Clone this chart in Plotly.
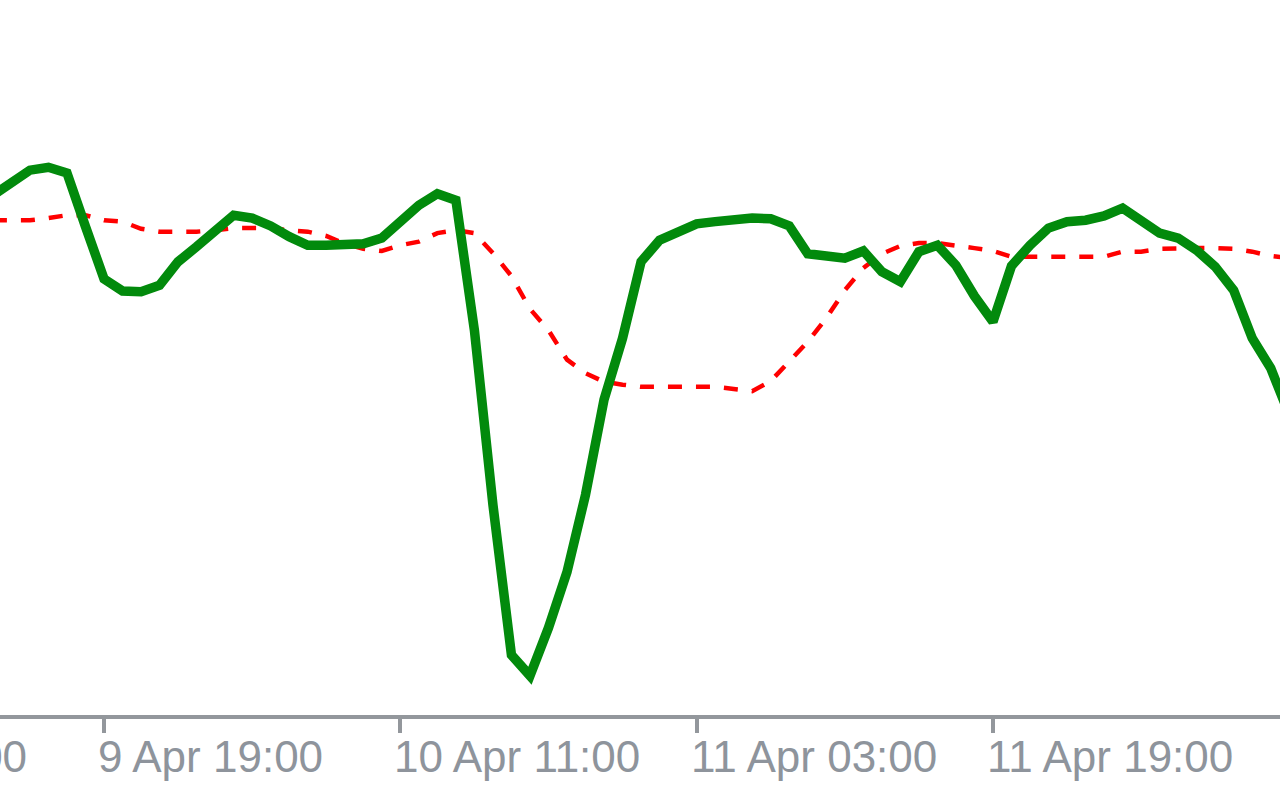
import pandas as pd
import plotly.graph_objects as go

# hourly timestamps (9 Apr 13:00 .. 12 Apr 11:00)
times = pd.date_range("2024-04-09 13:00", "2024-04-12 11:00", freq="h")

main_line = [
    72.7, 74.3, 76.2, 76.6, 75.8, 68.3, 61.0, 59.3, 59.2, 60.1,
    63.4, 65.5, 67.6, 69.9, 69.5, 68.4, 66.9, 65.7, 65.7, 65.7,
    65.9, 66.7, 69.0, 71.3, 72.9, 72.0, 53.8, 29.4, 8.4, 5.5,
    12.2, 20.0, 30.8, 44.1, 52.7, 63.4, 66.4, 67.4, 68.7, 69.0,
    69.4, 69.5, 69.4, 68.4, 64.5, 64.2, 63.9, 64.9, 62.0, 60.6,
    64.8, 65.7, 62.9, 58.6, 55.0, 62.8, 65.7, 68.1, 69.0, 69.2,
    69.8, 70.9, 69.0, 67.4, 66.7, 65.0, 62.7, 59.4, 52.7, 48.5,
    42.0,
]

signal_line = [
    69.2, 69.2, 69.2, 69.5, 69.9, 69.9, 69.2, 69.0, 68.0, 67.6,
    67.6, 67.6, 67.8, 68.1, 68.1, 68.1, 67.8, 67.6, 67.0, 65.9,
    65.2, 64.9, 65.7, 66.2, 67.4, 67.8, 67.4, 64.6, 61.4, 56.8,
    53.8, 49.7, 47.8, 46.6, 46.2, 45.9, 45.9, 45.9, 45.9, 45.9,
    45.6, 45.3, 46.7, 49.4, 52.2, 55.5, 59.4, 62.5, 64.5, 65.6,
    66.0, 66.0, 65.7, 65.3, 64.9, 64.1, 64.1, 64.1, 64.1, 64.1,
    64.1, 64.8, 64.8, 65.2, 65.3, 65.3, 65.3, 65.2, 64.8, 64.2,
    63.9,
]

tick_times = ["2024-04-09 03:00", "2024-04-09 19:00", "2024-04-10 11:00",
              "2024-04-11 03:00", "2024-04-11 19:00"]
tick_labels = ["9 Apr 03:00", "9 Apr 19:00", "10 Apr 11:00",
               "11 Apr 03:00", "11 Apr 19:00"]

x_start = pd.Timestamp("2024-04-09 13:23")
x_end = pd.Timestamp("2024-04-12 10:30")

AXIS_COLOR = "#93979c"
LABEL_COLOR = "#8e949c"

fig = go.Figure()
fig.add_trace(go.Scatter(
    x=times, y=signal_line, mode="lines",
    line=dict(color="#ff0000", width=4.5, dash="14px,14px"),
    hoverinfo="skip", showlegend=False,
))
fig.add_trace(go.Scatter(
    x=times, y=main_line, mode="lines",
    line=dict(color="#028a0c", width=9.5),
    hoverinfo="skip", showlegend=False,
))

span = (x_end - x_start).total_seconds()
annotations = []
for t, lab in zip(tick_times, tick_labels):
    frac = (pd.Timestamp(t) - x_start).total_seconds() / span
    annotations.append(dict(
        x=frac, xref="paper", y=-0.0587, yref="paper",
        xanchor="left", yanchor="middle", xshift=-8,
        text=lab, showarrow=False,
        font=dict(family="Liberation Sans", size=44, color=LABEL_COLOR),
    ))

fig.update_layout(
    width=1280, height=800,
    margin=dict(l=0, r=0, t=0, b=85, autoexpand=False),
    paper_bgcolor="white", plot_bgcolor="white",
    annotations=annotations,
    xaxis=dict(
        range=[x_start, x_end], showgrid=False, zeroline=False,
        showline=True, linewidth=4, linecolor=AXIS_COLOR,
        ticks="outside", ticklen=14, tickwidth=4, tickcolor=AXIS_COLOR,
        tickvals=tick_times, showticklabels=False, automargin=False,
    ),
    yaxis=dict(range=[0, 100], visible=False, showgrid=False, zeroline=False,
               automargin=False),
)

fig.write_html(
    "out.html",
    config={"displayModeBar": False},
    post_script="document.body.style.margin='0';document.body.style.overflow='hidden';",
)
